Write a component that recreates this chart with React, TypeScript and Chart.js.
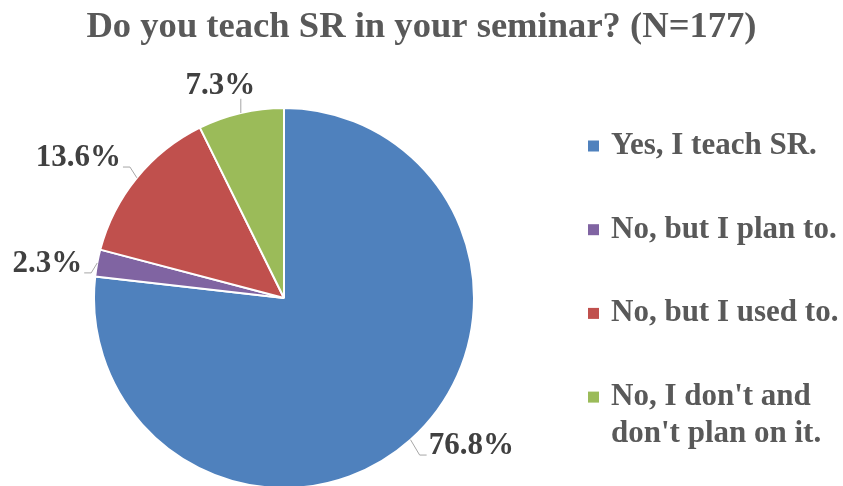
import React, { useEffect, useRef } from "react";
import { Chart, registerables } from "chart.js";

Chart.register(...registerables);

const TITLE = "Do you teach SR in your seminar? (N=177)";
const categories = [
  "Yes, I teach SR.",
  "No, but I plan to.",
  "No, but I used to.",
  "No, I don't and don't plan on it.",
];
const percentages = [76.8, 2.3, 13.6, 7.3];
const colors = ["#4F81BD", "#8064A2", "#C0504D", "#9BBB59"];

const SERIF = '"Liberation Serif", "Times New Roman", serif';

// Nudges applied to the generic outside-label placement (pixels)
const labelNudges: [number, number][] = [
  [19, -19],
  [4, 4],
  [-10, -3],
  [-8, 0],
];

const titlePlugin = {
  id: "customTitle",
  afterDraw(chart: any) {
    const ctx = chart.ctx;
    ctx.save();
    ctx.font = `bold 36.6px ${SERIF}`;
    ctx.fillStyle = "#595959";
    ctx.textAlign = "center";
    ctx.textBaseline = "alphabetic";
    ctx.fillText(TITLE, chart.width / 2, 37);
    ctx.restore();
  },
};

const labelPlugin = {
  id: "pieLabels",
  afterDatasetsDraw(chart: any) {
    const ctx = chart.ctx;
    const meta = chart.getDatasetMeta(0);
    const data = chart.data.datasets[0].data as number[];
    const fontSize = 31;
    ctx.save();
    ctx.font = `bold ${fontSize}px ${SERIF}`;
    ctx.textAlign = "left";
    ctx.textBaseline = "alphabetic";
    meta.data.forEach((arc: any, i: number) => {
      const { x, y, startAngle, endAngle, outerRadius } = arc.getProps(
        ["x", "y", "startAngle", "endAngle", "outerRadius"],
        true
      );
      const mid = (startAngle + endAngle) / 2;
      const dx = Math.cos(mid);
      const dy = Math.sin(mid);
      const text = data[i].toFixed(1) + "%";
      const w = ctx.measureText(text).width;
      const h = fontSize * 0.68;
      const R = outerRadius + 20;
      const nudge = labelNudges[i] || [0, 0];
      const cx = x + R * dx + (dx * w) / 2 + nudge[0];
      const cy = y + R * dy + (dy * h) / 2 + nudge[1];
      const left = cx - w / 2;
      const right = cx + w / 2;
      const top = cy - h / 2;
      const bottom = cy + h / 2;

      ctx.fillStyle = "#404040";
      ctx.fillText(text, left, bottom);

      // leader line
      const sx = x + outerRadius * dx;
      const sy = y + outerRadius * dy;
      ctx.strokeStyle = "#A6A6A6";
      ctx.lineWidth = 1;
      ctx.beginPath();
      if (sx >= left && sx <= right) {
        const ey = sy > bottom ? bottom + 5 : top - 5;
        ctx.moveTo(sx, sy);
        ctx.lineTo(sx, ey);
      } else {
        const onRight = sx > right;
        const ex = onRight ? right + 2 : left - 2;
        const ey = bottom + 1;
        const elbowX = onRight ? ex + 7 : ex - 7;
        ctx.moveTo(sx, sy);
        ctx.lineTo(elbowX, ey);
        ctx.lineTo(ex, ey);
      }
      ctx.stroke();
    });
    ctx.restore();
  },
};

const legendPlugin = {
  id: "customLegend",
  afterDraw(chart: any) {
    const ctx = chart.ctx;
    const labels = chart.data.labels as string[];
    const bg = chart.data.datasets[0].backgroundColor as string[];
    const boxX = 588;
    const textX = 611;
    const firstY = 146;
    const rowGap = 83.7;
    const box = 11;
    const lineH = 36.5;
    const maxW = chart.width - textX - 2;
    ctx.save();
    ctx.font = `bold 31px ${SERIF}`;
    ctx.textAlign = "left";
    ctx.textBaseline = "middle";
    labels.forEach((label, i) => {
      const yc = firstY + i * rowGap;
      ctx.fillStyle = bg[i];
      ctx.fillRect(boxX, yc - box / 2, box, box);
      // wrap
      const words = label.split(" ");
      const lines: string[] = [];
      let cur = "";
      words.forEach((wd) => {
        const test = cur ? cur + " " + wd : wd;
        if (ctx.measureText(test).width > maxW && cur) {
          lines.push(cur);
          cur = wd;
        } else {
          cur = test;
        }
      });
      if (cur) lines.push(cur);
      ctx.fillStyle = "#595959";
      lines.forEach((ln, j) => {
        ctx.fillText(ln, textX, yc + j * lineH);
      });
    });
    ctx.restore();
  },
};

export default function App() {
  const canvasRef = useRef<HTMLCanvasElement | null>(null);

  useEffect(() => {
    const canvas = canvasRef.current;
    if (!canvas) return;
    const chart = new Chart(canvas, {
      type: "pie",
      data: {
        labels: categories,
        datasets: [
          {
            data: percentages,
            backgroundColor: colors,
            borderColor: "#FFFFFF",
            borderWidth: 2,
            radius: 190,
          } as any,
        ],
      },
      options: {
        responsive: false,
        animation: false,
        layout: {
          padding: { left: 94, right: 369, top: 110, bottom: 0 },
        },
        plugins: {
          legend: { display: false },
          title: { display: false },
          tooltip: { enabled: false },
        },
      },
      plugins: [titlePlugin, labelPlugin, legendPlugin],
    });
    return () => chart.destroy();
  }, []);

  return (
    <div
      style={{
        position: "fixed",
        left: 0,
        top: 0,
        width: 843,
        height: 486,
        background: "#FFFFFF",
      }}
    >
      <canvas
        ref={canvasRef}
        width={843}
        height={486}
        style={{ display: "block", width: 843, height: 486 }}
      />
    </div>
  );
}
